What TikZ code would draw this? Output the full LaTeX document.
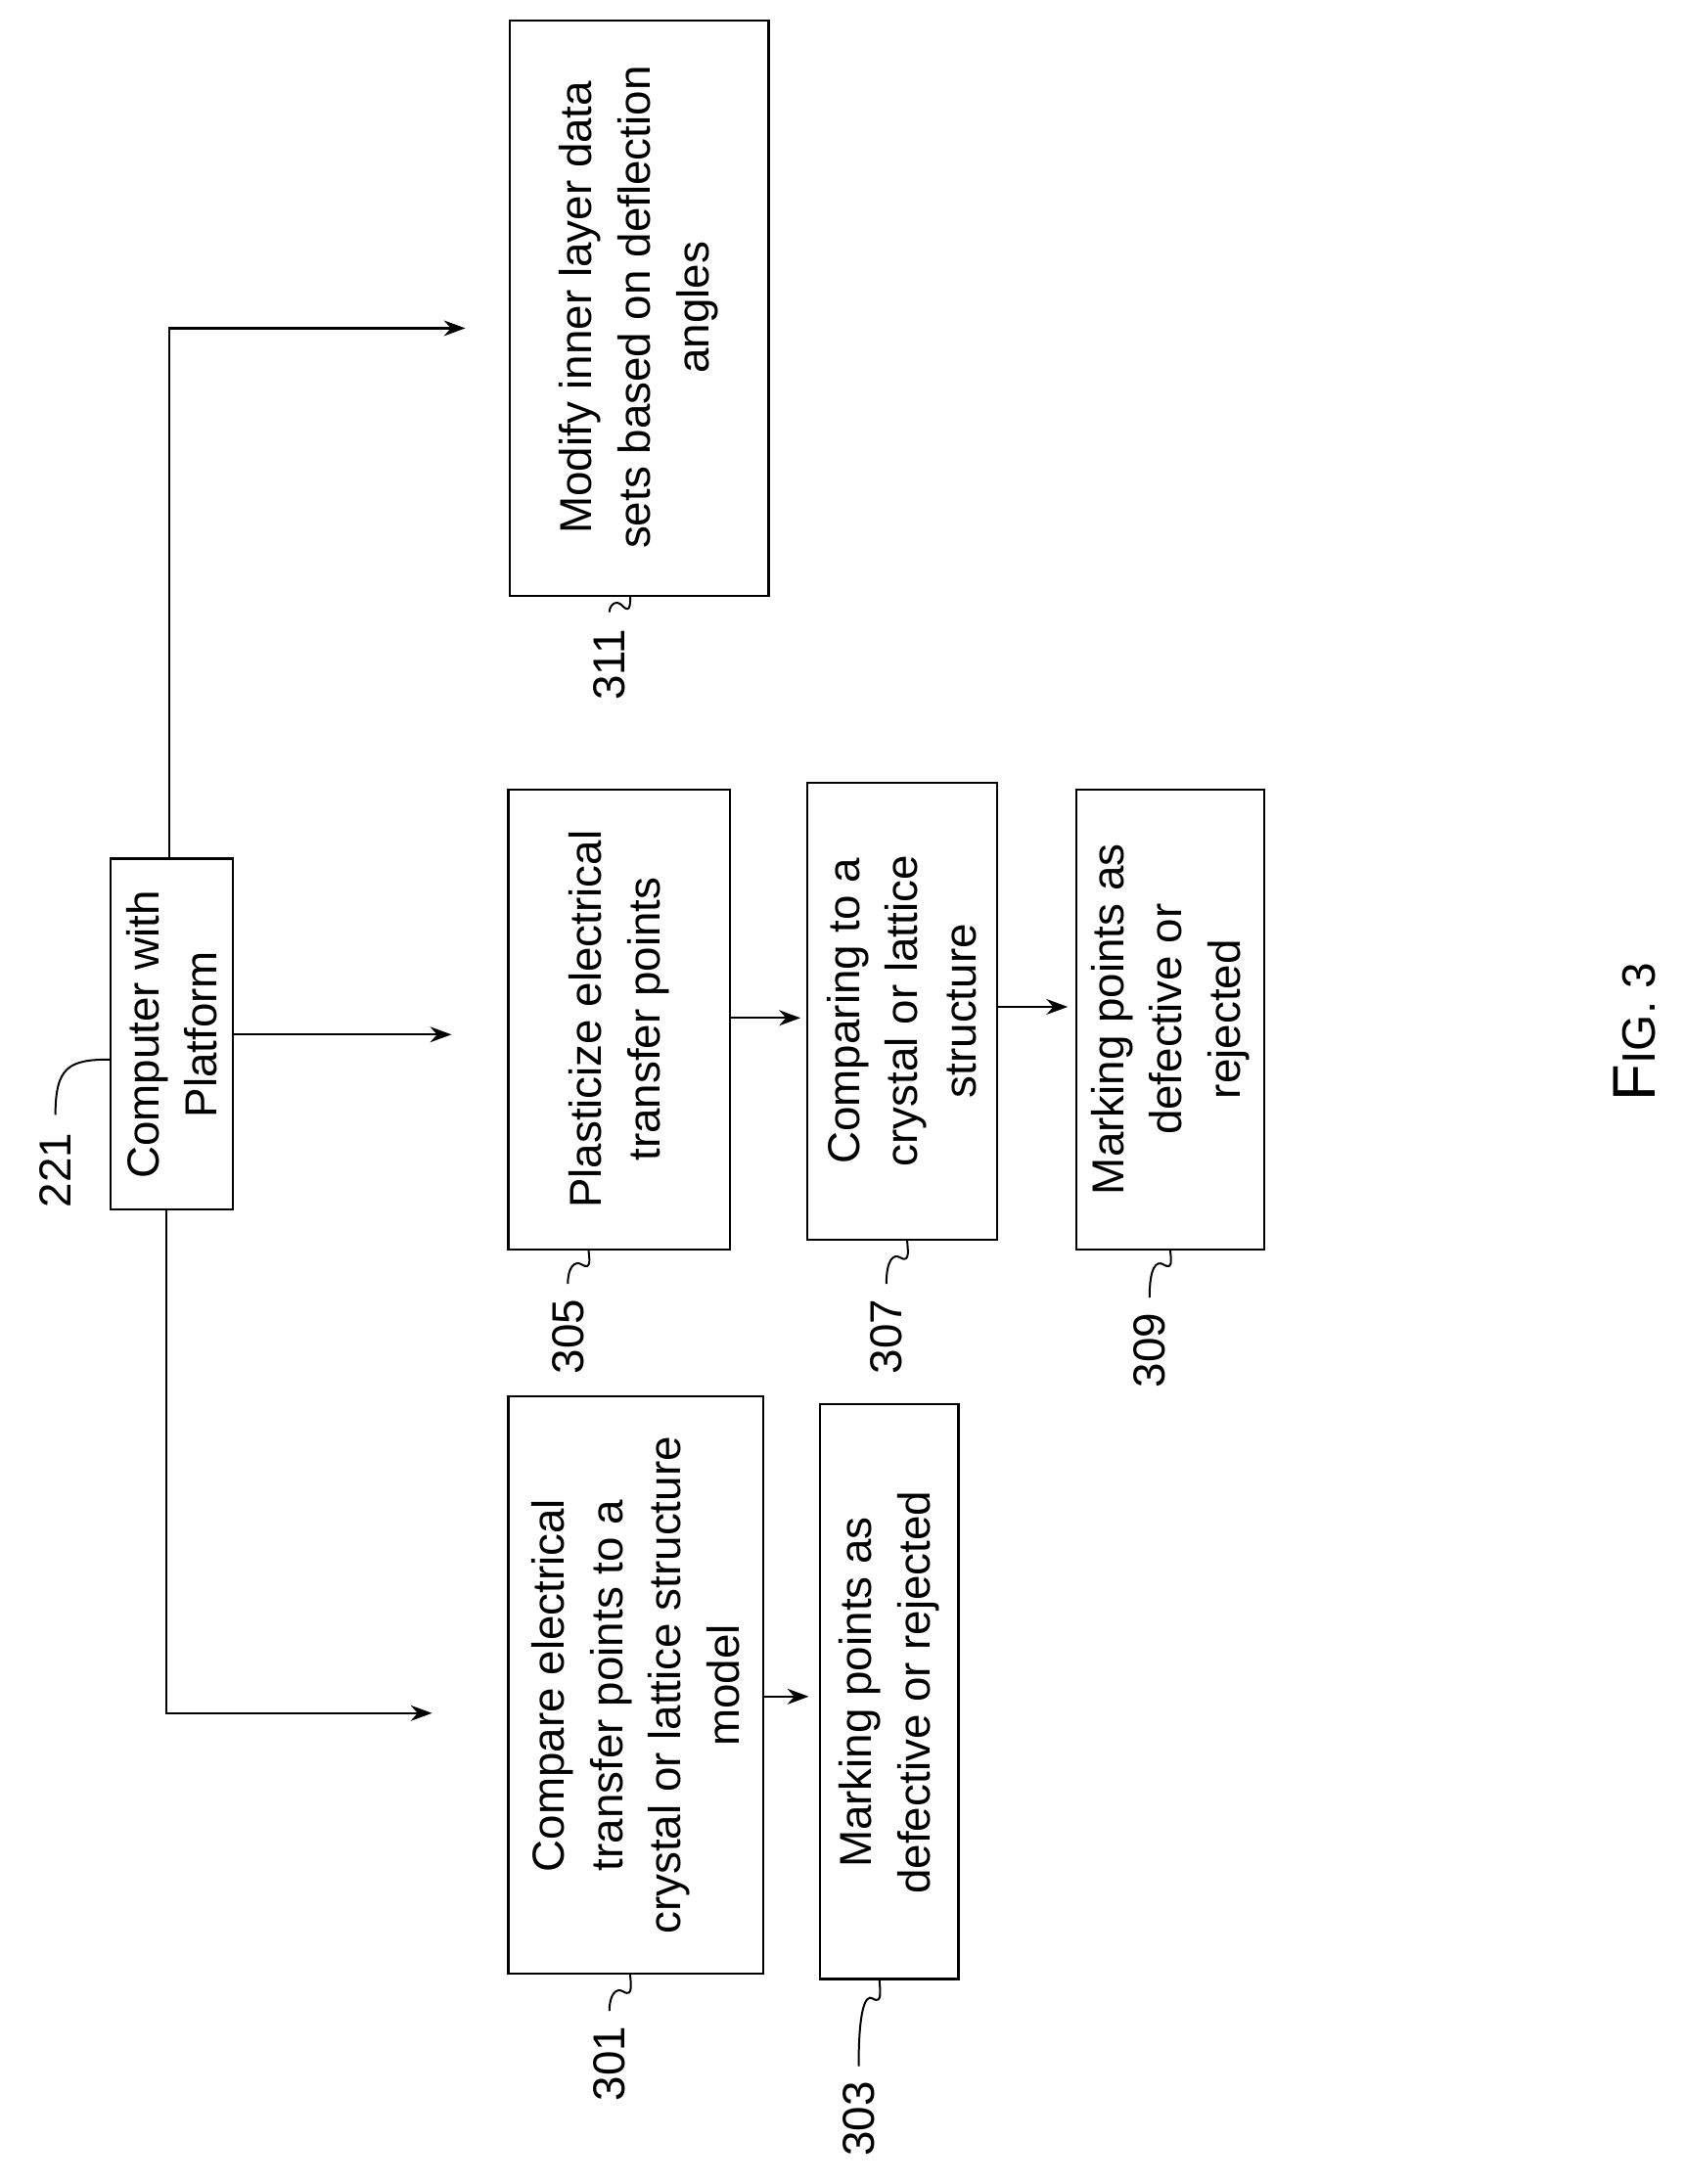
\documentclass[tikz,border=0pt]{standalone}
\usepackage{fontspec}
\usetikzlibrary{arrows.meta}
\setmainfont{Liberation Sans}
\begin{document}
\begin{tikzpicture}[x=0.05cm,y=-0.05cm,
  txt/.style={rotate=90,align=center,font=\fontsize{46}{60}\selectfont},
  lbl/.style={rotate=90,font=\fontsize{46}{50}\selectfont},
  arr/.style={line width=2.2pt,-{Stealth[length=22pt,width=16pt]}},
  lead/.style={line width=2pt}]
\useasboundingbox (0,0) rectangle (1216,1577);
% boxes
\draw[line width=2.2pt] (80,620) rectangle (168,873);
\node[txt] (c221) at (124,747) {Computer with\\Platform};
\draw[line width=2.2pt] (367,1008) rectangle (551,1425);
\node[txt] (n301) at (459,1217) {Compare electrical\\transfer points to a\\crystal or lattice structure\\model};
\draw[line width=2.2pt] (592,1014) rectangle (692,1429);
\node[txt] (n303) at (642,1222) {Marking points as\\defective or rejected};
\draw[line width=2.2pt] (367,570) rectangle (527,902);
\node[txt] (n305) at (447,736) {Plasticize electrical\\transfer points};
\draw[line width=2.2pt] (583,565) rectangle (720,895);
\node[txt] (n307) at (651,730) {Comparing to a\\crystal or lattice\\structure};
\draw[line width=2.2pt] (777,570) rectangle (913,902);
\node[txt] (n309) at (845,736) {Marking points as\\defective or\\rejected};
\draw[line width=2.2pt] (368,15) rectangle (555,430);
\node[txt] (n311) at (461,222) {Modify inner layer data\\sets based on deflection\\angles};
% arrows
\draw[arr] (120,873) -- (120,1237) -- (312,1237);
\draw[arr] (168,747) -- (326,747);
\draw[arr] (122,620) -- (122,237) -- (336,237);
\draw[arr] (527,735) -- (578,735);
\draw[arr] (720,727) -- (771,727);
\draw[arr] (551,1225) -- (584,1225);
% labels
\node[lbl] (l221) at (40,845) {221};
\draw[lead] (40,805) .. controls (40,770) and (50,765) .. (80,765);
\node[lbl] (l301) at (440,1490) {301};
\draw[lead] (440,1452) .. controls (440,1440) and (445,1435) .. (450,1438) .. controls (458,1443) and (455,1430) .. (455,1425);
\node[lbl] (l303) at (620,1530) {303};
\draw[lead] (620,1492) .. controls (620,1450) and (625,1440) .. (630,1443) .. controls (638,1448) and (635,1435) .. (635,1429);
\node[lbl] (l305) at (410,965) {305};
\draw[lead] (410,927) .. controls (410,915) and (415,910) .. (420,913) .. controls (428,918) and (425,907) .. (425,902);
\node[lbl] (l307) at (640,965) {307};
\draw[lead] (640,927) .. controls (640,910) and (645,905) .. (650,908) .. controls (658,913) and (655,900) .. (655,895);
\node[lbl] (l309) at (830,975) {309};
\draw[lead] (830,937) .. controls (830,915) and (835,910) .. (840,913) .. controls (848,918) and (845,907) .. (845,902);
\node[lbl] (l311) at (440,480) {311};
\draw[lead] (440,442) .. controls (440,437) and (445,432) .. (450,438) .. controls (456,444) and (455,432) .. (455,430);
\node[rotate=90,font=\fontsize{62}{70}\selectfont] (fig) at (1180,745) {F\fontsize{48}{50}\selectfont IG. 3};
\end{tikzpicture}
\end{document}
